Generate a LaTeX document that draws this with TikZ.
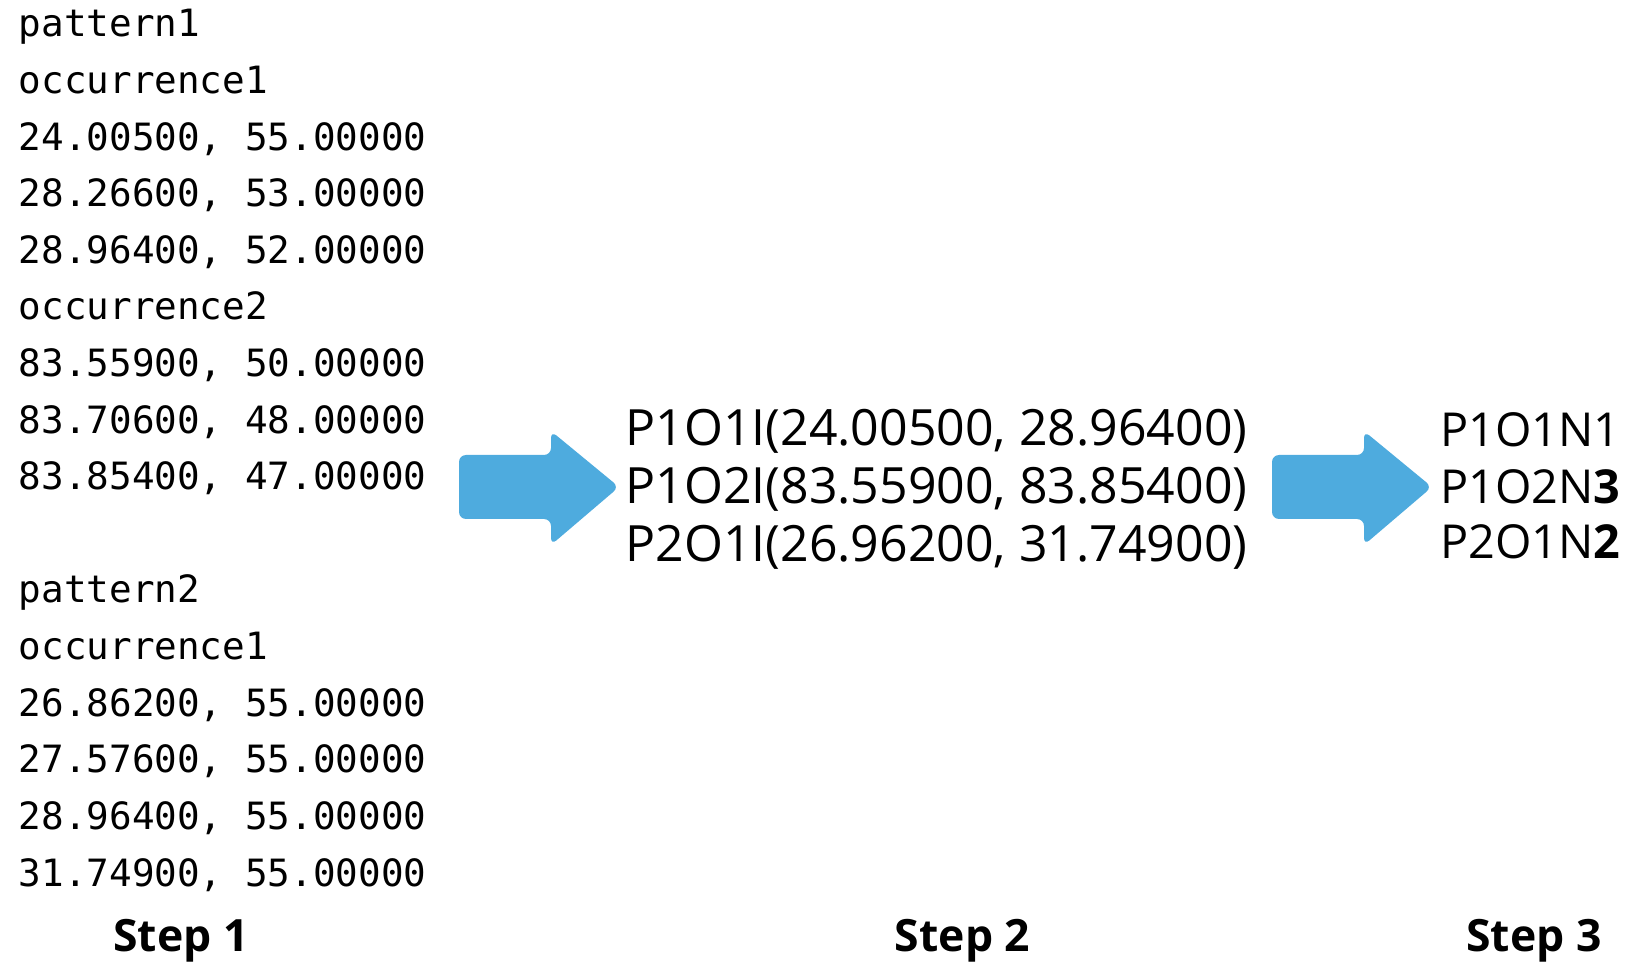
\documentclass[tikz,border=0pt]{standalone}
\usepackage{fontspec}
\setmainfont{Open Sans}
\newfontfamily\monofont{DejaVu Sans Mono}
\definecolor{arrowblue}{RGB}{78,171,222}
\begin{document}
\begin{tikzpicture}[x=0.5pt,y=-0.5pt,
  mono/.style={anchor=base west, inner sep=0pt, font=\monofont\fontsize{18.8}{23}\selectfont},
  mid/.style={anchor=base west, inner sep=0pt, font=\fontsize{25}{30}\selectfont},
  res/.style={anchor=base west, inner sep=0pt, font=\fontsize{23.4}{28}\selectfont},
  steplabel/.style={anchor=base, inner sep=0pt, font=\bfseries\fontsize{22.25}{27}\selectfont},
  bigarrow/.style={fill=arrowblue, rounded corners=3.5pt}]
\useasboundingbox (0,0) rectangle (1630,968);
% Step 1 column
\foreach \t [count=\i] in {pattern1, occurrence1, {24.00500, 55.00000}, {28.26600, 53.00000}, {28.96400, 52.00000}, occurrence2, {83.55900, 50.00000}, {83.70600, 48.00000}, {83.85400, 47.00000}}
  \node[mono] (a\i) at (18.5, {37+56.6*(\i-1)}) {\t};
\foreach \t [count=\i] in {pattern2, occurrence1, {26.86200, 55.00000}, {27.57600, 55.00000}, {28.96400, 55.00000}, {31.74900, 55.00000}}
  \node[mono] (b\i) at (18.5, {37+56.6*(\i+9)}) {\t};
% Step 2 column
\node[mid] (m1) at (625,446) {P1O1I(24.00500, 28.96400)};
\node[mid] (m2) at (625,503) {P1O2I(83.55900, 83.85400)};
\node[mid] (m3) at (625,561) {P2O1I(26.96200, 31.74900)};
% Step 3 column
\node[res] (r1) at (1440,447) {P1O1N1};
\node[res] (r2) at (1440,503) {P1O2N\textbf{3}};
\node[res] (r3) at (1440,559) {P2O1N\textbf{2}};
% arrows
\fill[bigarrow] (459,455) -- (551,455) -- (551,431) -- (619,487) -- (551,545) -- (551,519) -- (459,519) -- cycle;
\fill[bigarrow] (1272,455) -- (1364,455) -- (1364,431) -- (1432,487) -- (1364,545) -- (1364,519) -- (1272,519) -- cycle;
% step labels
\node[steplabel] (s1) at (181,951) {Step 1};
\node[steplabel] (s2) at (962.5,951) {Step 2};
\node[steplabel] (s3) at (1534,951) {Step 3};
\end{tikzpicture}
\end{document}
